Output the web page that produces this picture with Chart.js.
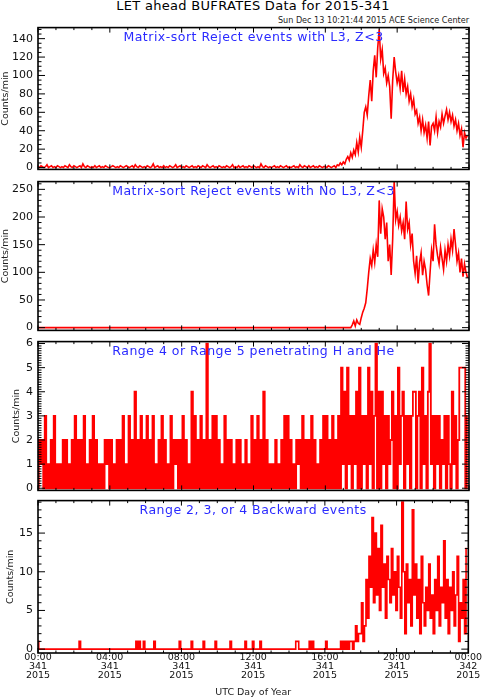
<!DOCTYPE html>
<html>
<head>
<meta charset="utf-8">
<script src="https://cdn.jsdelivr.net/npm/chart.js@4.4.0/dist/chart.umd.min.js"></script>
<style>
body{margin:0;background:#fff;}
#page{position:relative;width:482px;height:700px;overflow:hidden;font-family:"DejaVu Sans",sans-serif;background:#fff;}
.panel{position:absolute;left:0;width:482px;}
#title{position:absolute;top:-2px;left:12px;width:482px;text-align:center;font-size:13px;letter-spacing:0.3px;color:#000;}
#stamp{position:absolute;top:15px;right:13px;font-size:8.1px;color:#222;}
</style>
</head>
<body>
<div id="page">
  <div id="title">LET ahead BUFRATES Data for 2015-341</div>
  <div id="stamp">Sun Dec 13 10:21:44 2015 ACE Science Center</div>
  <div class="panel" style="top:16px;height:165px"><canvas id="c1"></canvas></div>
  <div class="panel" style="top:170px;height:172px"><canvas id="c2"></canvas></div>
  <div class="panel" style="top:330px;height:172px"><canvas id="c3"></canvas></div>
  <div class="panel" style="top:489px;height:211px"><canvas id="c4"></canvas></div>
</div>
<script>
// one sample every 5 minutes, day 341 of 2015
const sampleMinutes = 5;

const panelTitles = [
  'Matrix-sort Reject events with L3, Z<3',
  'Matrix-sort Reject events with No L3, Z<3',
  'Range 4 or Range 5 penetrating H and He',
  'Range 2, 3, or 4 Backward events'
];

const hourTicks = [0, 4, 8, 12, 16, 20, 24];
const hourLabels = [
  ['00:00', '341', '2015'], ['04:00', '341', '2015'], ['08:00', '341', '2015'],
  ['12:00', '341', '2015'], ['16:00', '341', '2015'], ['20:00', '341', '2015'],
  ['00:00', '342', '2015']
];

const l3Ticks = [0, 20, 40, 60, 80, 100, 120, 140];
const noL3Ticks = [0, 50, 100, 150, 200, 250];
const rangeTicks = [0, 1, 2, 3, 4, 5, 6];
const backTicks = [0, 5, 10, 15];

const l3Rates = [
  1,0,2,1,0,1,3,0,1,2,0,1,
  0,2,1,0,1,0,2,1,0,3,1,0,
  2,1,0,1,2,0,4,1,0,2,1,0,
  1,0,2,0,1,2,0,1,0,2,1,0,
  0,1,2,1,0,1,0,2,1,0,1,2,
  1,0,1,2,0,3,1,0,2,1,0,1,
  0,2,1,0,1,4,0,1,2,0,1,0,
  2,0,1,0,2,1,0,1,3,0,1,2,
  0,1,0,2,1,0,1,2,0,1,0,2,
  1,0,2,1,0,3,1,0,1,2,0,1,
  0,2,1,0,1,0,2,1,0,1,3,0,
  1,0,2,0,1,2,0,1,0,2,1,0,
  2,1,0,1,0,4,1,0,2,1,0,1,
  0,1,2,0,1,0,2,1,0,1,2,0,
  1,0,1,2,0,1,0,3,1,0,2,1,
  0,2,0,1,2,0,1,0,2,1,0,1,
  1,0,2,1,0,1,2,0,3,2,5,3,
  6,4,9,12,8,16,11,19,14,27,17,33,
  22,40,60,66,57,78,95,72,105,122,98,130,
  150,118,128,102,108,92,100,88,53,95,120,104,
  92,100,86,105,82,96,80,88,72,80,66,74,
  58,62,48,55,40,52,38,46,32,50,24,45,
  48,40,55,38,50,44,58,48,56,63,52,60,
  50,57,45,52,40,48,35,42,22,38,32,35
];

const noL3Rates = [
  0,0,0,0,0,0,0,0,0,0,0,0,
  0,0,0,0,0,0,0,0,0,0,0,0,
  0,0,0,0,0,0,0,0,0,0,0,0,
  0,0,0,0,0,0,0,0,0,0,0,0,
  0,0,0,0,0,0,0,0,0,0,0,0,
  0,0,0,0,0,0,0,0,0,0,0,0,
  0,0,0,0,0,0,0,0,0,0,0,0,
  0,0,0,0,0,0,0,0,0,0,0,0,
  0,0,0,0,0,0,0,0,0,0,0,0,
  0,0,0,0,0,0,0,0,0,0,0,0,
  0,0,0,0,0,0,0,0,0,0,0,0,
  0,0,0,0,0,0,0,0,0,0,0,0,
  0,0,0,0,0,0,0,0,0,0,0,0,
  0,0,0,0,0,0,0,0,0,0,0,0,
  0,0,0,0,0,0,0,0,0,0,0,0,
  0,0,0,0,0,0,0,0,0,0,0,0,
  0,0,0,0,0,0,0,0,0,0,0,0,
  0,0,0,0,0,0,5,12,3,14,8,6,
  18,28,35,45,70,100,125,112,140,118,150,128,
  230,170,215,200,160,190,120,150,95,160,265,195,
  210,185,200,175,190,160,228,178,190,150,170,120,
  98,130,80,118,135,95,120,105,78,58,100,140,
  120,187,150,130,115,145,125,105,140,120,150,130,
  160,140,178,150,120,135,100,125,92,115,100,90
];

const rangeHHe = [
  0,2,1,2,0,3,0,1,0,2,0,3,
  0,1,0,1,0,2,0,2,0,1,0,2,
  0,3,0,2,0,2,0,3,0,1,0,2,
  0,3,0,2,0,1,0,1,0,2,1,2,
  0,2,0,1,0,2,0,2,0,3,0,1,
  0,3,0,2,0,4,0,2,0,3,0,2,
  0,3,0,2,0,3,0,1,0,2,0,3,
  0,2,0,1,0,3,0,2,1,2,0,2,
  0,3,0,2,0,1,0,4,0,3,0,2,
  0,3,0,2,0,6,0,2,0,3,0,3,
  0,2,0,1,0,3,0,2,0,2,0,1,
  0,2,0,2,0,1,0,2,0,1,0,3,
  0,2,0,3,0,2,0,4,0,2,0,1,
  0,1,0,2,0,1,0,2,0,3,0,3,
  0,2,0,1,0,2,1,2,0,3,0,2,
  0,2,0,3,0,2,0,1,0,2,0,3,
  0,3,0,2,0,3,0,2,0,3,0,5,
  1,4,0,5,1,3,0,3,1,4,0,5,
  0,3,1,3,0,5,1,4,0,3,6,0,
  4,0,4,1,3,0,3,1,2,4,0,3,
  0,5,1,3,4,0,3,1,3,0,3,4,
  4,0,3,4,0,5,1,3,0,4,6,1,
  3,0,3,1,3,0,2,1,3,0,3,1,
  0,4,1,3,0,2,5,5,5,5,0,3
];

const backward = [
  1,0,0,0,0,0,0,0,0,0,0,0,
  0,0,0,0,0,0,0,0,0,0,0,0,
  0,0,0,0,1,0,0,0,0,0,0,0,
  0,0,0,0,0,0,0,0,0,0,0,0,
  0,0,0,0,0,0,0,0,0,0,0,0,
  0,0,0,0,0,0,1,0,1,0,0,1,
  0,0,0,0,0,0,1,0,0,0,0,0,
  0,0,0,0,0,0,0,0,0,0,0,1,
  0,0,0,0,0,0,0,1,0,0,0,0,
  0,0,0,1,0,0,0,0,0,0,0,1,
  0,0,0,0,0,0,0,0,0,1,0,0,
  0,0,0,0,0,0,0,1,0,0,0,0,
  1,0,0,0,0,1,0,0,0,0,0,0,
  0,0,0,0,0,0,0,0,0,0,0,0,
  0,0,0,0,0,1,1,0,0,0,0,0,
  0,0,1,0,1,0,0,0,0,0,0,0,
  0,1,0,0,0,0,0,0,0,0,0,1,
  0,1,0,1,0,1,1,0,1,3,1,2,
  2,6,1,3,9,4,12,8,17,6,15,7,
  13,5,16,8,11,4,12,9,6,13,7,10,
  5,12,8,4,19,10,2,11,6,9,3,18,
  7,11,4,9,2,12,6,3,8,5,11,4,
  7,2,9,5,12,3,8,6,14,4,9,2,
  8,5,10,3,7,12,1,6,4,9,2,13
];

const toPoints = vals => vals.map((v, i) => ({x: i * sampleMinutes / 60, y: v}));

// IDL style box: frame, inward ticks, title inside the plot
const idlFrame = {
  id: 'idlFrame',
  afterDatasetsDraw(chart, args, o) {
    const {ctx, chartArea: a, scales: {x, y}} = chart;
    ctx.save();
    ctx.strokeStyle = '#000';
    ctx.lineWidth = 1;
    ctx.beginPath();
    for (let h = 0; h <= 24; h++) {
      const px = x.getPixelForValue(h);
      const len = h % 4 === 0 ? 5 : 2.5;
      ctx.moveTo(px, a.bottom); ctx.lineTo(px, a.bottom - len);
      ctx.moveTo(px, a.top); ctx.lineTo(px, a.top + len);
    }
    const start = Math.ceil(y.min / o.minor) * o.minor;
    for (let v = start; v <= y.max + 1e-9; v += o.minor) {
      const py = y.getPixelForValue(v);
      const major = Math.abs(v / o.major - Math.round(v / o.major)) < 1e-6;
      const len = major ? 7 : 3.5;
      ctx.moveTo(a.left, py); ctx.lineTo(a.left + len, py);
      ctx.moveTo(a.right, py); ctx.lineTo(a.right - len, py);
    }
    ctx.stroke();
    ctx.lineWidth = 1.6;
    ctx.strokeRect(a.left, a.top, a.right - a.left, a.bottom - a.top);
    ctx.fillStyle = '#2a2aff';
    ctx.font = '12.5px "DejaVu Sans"';
    ctx.letterSpacing = '0.5px';
    ctx.textAlign = 'center';
    ctx.textBaseline = 'middle';
    ctx.fillText(o.title, (a.left + a.right) / 2, a.top + 10);
    ctx.restore();
  }
};

const panels = [
  {id: 'c1', values: l3Rates, ticks: l3Ticks, min: -2, max: 152, major: 20, minor: 5, stepped: false, width: 1.6, titlePad: 0},
  {id: 'c2', values: noL3Rates, ticks: noL3Ticks, min: -5, max: 264, major: 50, minor: 10, stepped: false, width: 1.6, titlePad: 0},
  {id: 'c3', values: rangeHHe, ticks: rangeTicks, min: -0.09, max: 6.08, major: 1, minor: 0.1, stepped: 'middle', width: 1.8, titlePad: 11},
  {id: 'c4', values: backward, ticks: backTicks, min: -0.5, max: 19.2, major: 5, minor: 1, stepped: 'middle', width: 1.6, titlePad: 5}
];

panels.forEach((p, k) => {
  const last = k === panels.length - 1;
  new Chart(document.getElementById(p.id), {
    type: 'line',
    data: {
      datasets: [{
        data: toPoints(p.values),
        borderColor: '#ff0000',
        borderWidth: p.width,
        pointRadius: 0,
        tension: 0,
        stepped: p.stepped
      }]
    },
    options: {
      responsive: true,
      maintainAspectRatio: false,
      animation: false,
      events: [],
      layout: {padding: {top: 8, bottom: last ? 0 : 8, left: 0, right: 13}},
      plugins: {
        legend: {display: false},
        tooltip: {enabled: false},
        idlFrame: {title: panelTitles[k], major: p.major, minor: p.minor}
      },
      scales: {
        x: {
          type: 'linear', min: 0, max: 24,
          grid: {display: false, drawTicks: false},
          border: {display: false},
          afterBuildTicks: s => { s.ticks = hourTicks.map(v => ({value: v})); },
          ticks: {
            display: last, autoSkip: false, maxRotation: 0, padding: 0,
            color: '#111', font: {family: 'DejaVu Sans', size: 9.5, lineHeight: 0.95},
            callback: (v, i) => hourLabels[i]
          },
          title: {
            display: last, text: 'UTC Day of Year', color: '#222',
            font: {family: 'DejaVu Sans', size: 9.5}, padding: {top: 0, bottom: 1.5}
          },
          afterFit: s => { s.height = last ? 47 : 0; }
        },
        y: {
          min: p.min, max: p.max,
          grid: {display: false, drawTicks: false},
          border: {display: false},
          afterBuildTicks: s => { s.ticks = p.ticks.map(v => ({value: v})); },
          ticks: {padding: 5, color: '#111', font: {family: 'DejaVu Sans', size: 11}},
          title: {
            display: true, text: 'Counts/min', color: '#222',
            font: {family: 'DejaVu Sans', size: 9.5}, padding: {top: p.titlePad, bottom: 0}
          },
          afterFit: s => { s.width = 38; }
        }
      }
    },
    plugins: [idlFrame]
  });
});
</script>
</body>
</html>
